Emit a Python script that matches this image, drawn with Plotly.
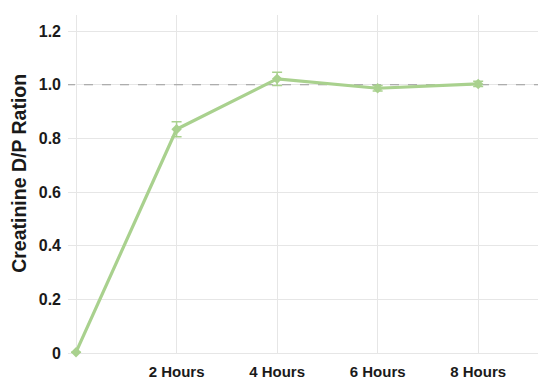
import plotly.graph_objects as go

# data
hours = [0, 2, 4, 6, 8]
hour_labels = ["", "2 Hours", "4 Hours", "6 Hours", "8 Hours"]
ratio = [0.003, 0.834, 1.022, 0.987, 1.003]
ratio_err = [0, 0.028, 0.025, 0.01, 0.01]
ref_level = 1.0
y_ticks = [0, 0.2, 0.4, 0.6, 0.8, 1.0, 1.2]
y_labels = ["0", "0.2", "0.4", "0.6", "0.8", "1.0", "1.2"]

green = "#a9d18e"

fig = go.Figure()

# reference line
fig.add_trace(go.Scatter(
    x=[-0.2, 9.3], y=[ref_level, ref_level], mode="lines",
    line=dict(color="#9a9a9a", width=1, dash="dash"),
    hoverinfo="skip", showlegend=False,
))

fig.add_trace(go.Scatter(
    x=hours, y=ratio, mode="lines+markers",
    line=dict(color=green, width=3.2),
    marker=dict(symbol="diamond", size=8, color=green),
    error_y=dict(type="data", array=ratio_err, color=green, thickness=1.5, width=5),
    cliponaxis=False, showlegend=False,
))

# page body adds ~8px offset, margins compensate
fig.update_layout(
    width=550, height=392,
    margin=dict(l=60, r=20, t=7, b=47),
    plot_bgcolor="white", paper_bgcolor="white",
    font=dict(family="Liberation Sans, Arial", color="#1a1a1a"),
)
fig.update_xaxes(
    range=[-0.16, 9.19], tickvals=hours, ticktext=hour_labels,
    showgrid=True, gridcolor="#e6e6e6", gridwidth=1,
    zeroline=False, showline=False, ticks="", automargin=False,
    ticklabelstandoff=8,
    tickfont=dict(size=15, family="Liberation Sans, Arial", weight="bold"),
)
fig.update_yaxes(
    range=[0, 1.26], tickvals=y_ticks, ticktext=y_labels,
    showgrid=True, gridcolor="#e6e6e6", gridwidth=1,
    zeroline=True, zerolinecolor="#e6e6e6", zerolinewidth=1,
    showline=False, ticks="", ticklabelstandoff=6, automargin=False,
    tickfont=dict(size=16, family="Liberation Sans, Arial", weight="bold"),
)

# y axis title as a rotated annotation so it can sit a little above centre
fig.add_annotation(
    text="<b>Creatinine D/P Ration</b>", textangle=-90,
    xref="paper", yref="paper", x=0, y=0.53, xshift=-49,
    xanchor="center", yanchor="middle", showarrow=False,
    font=dict(size=19.5, family="Liberation Sans, Arial", color="#1a1a1a"),
)

fig.write_html("out.html")
